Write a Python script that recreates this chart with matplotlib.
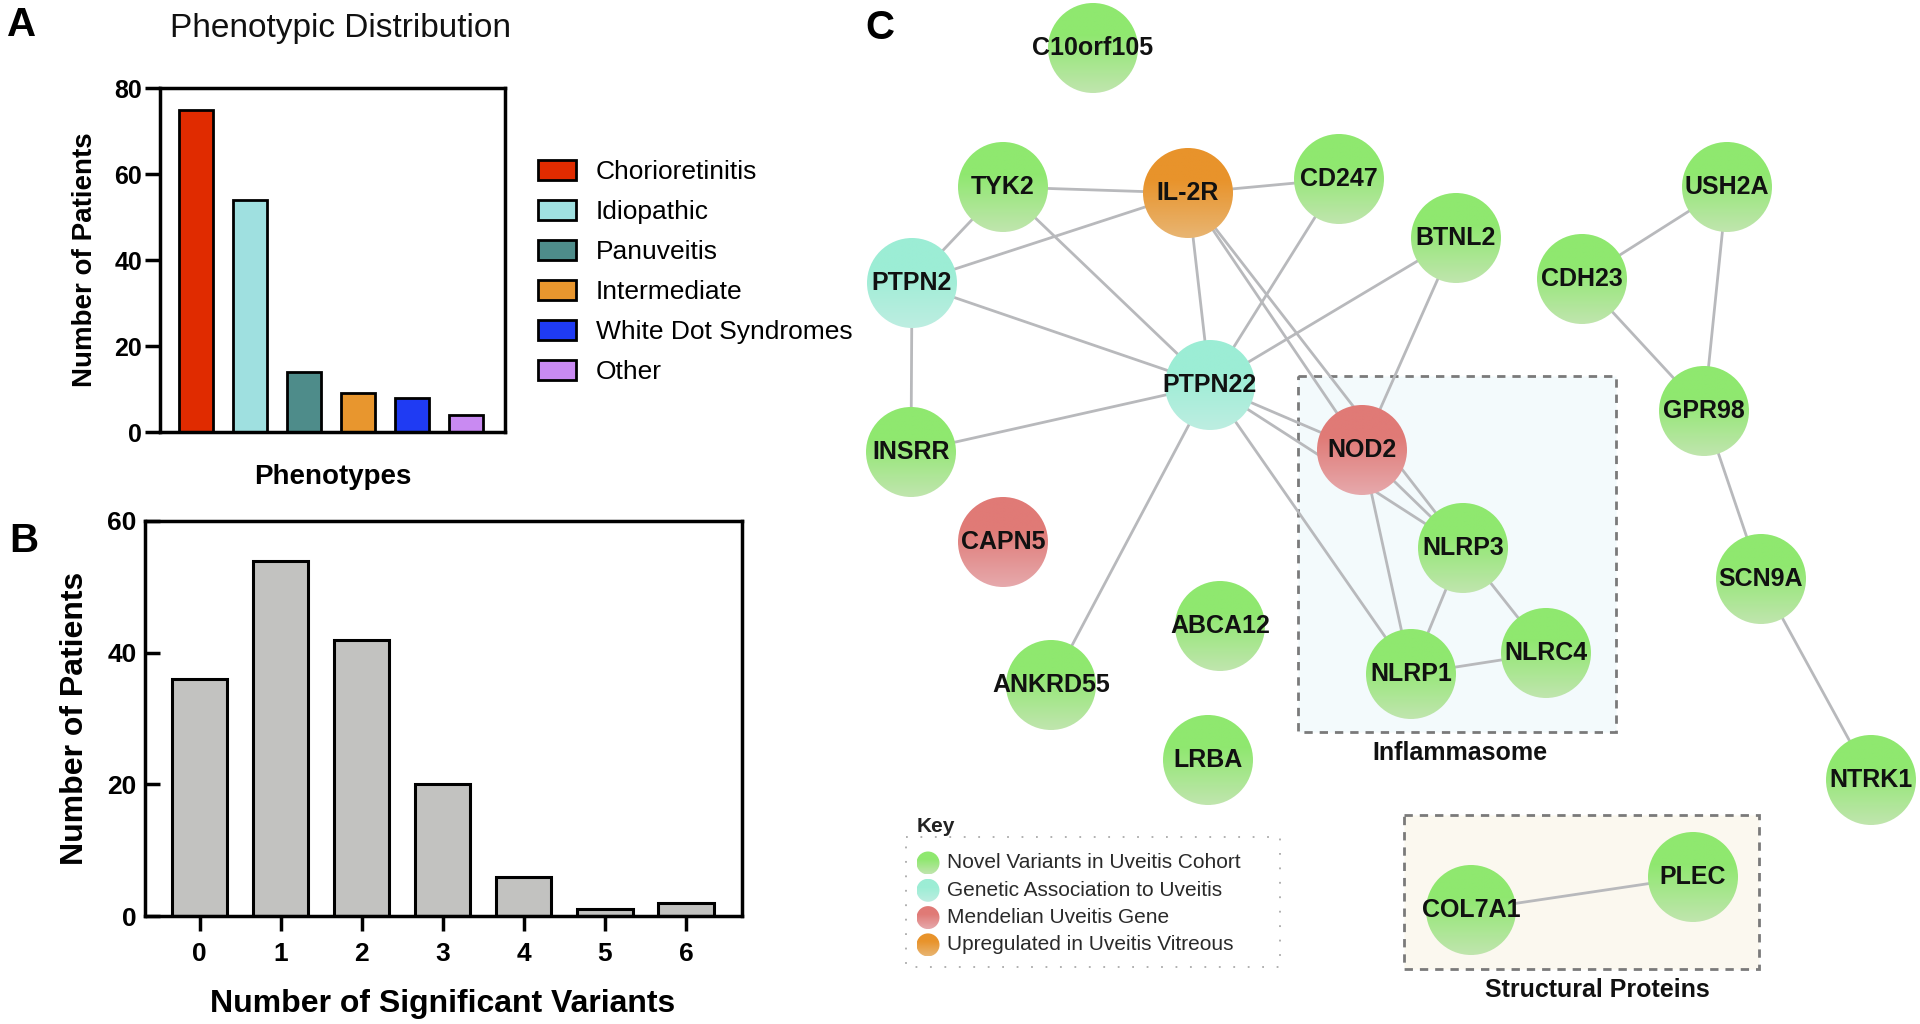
import numpy as np
import matplotlib
matplotlib.use("Agg")
import matplotlib.pyplot as plt
from matplotlib.patches import Circle, Rectangle, Patch
from matplotlib.colors import to_rgb

plt.rcParams['font.family'] = ['Liberation Sans', 'DejaVu Sans']

# ---------------- data ----------------
phenotypes = ['Chorioretinitis', 'Idiopathic', 'Panuveitis', 'Intermediate',
              'White Dot Syndromes', 'Other']
phenotype_counts = [75, 54, 14, 9, 8, 4]
phenotype_colors = ['#E02B00', '#9FE0E0', '#4E8C8A', '#E8962E', '#1F3BF3', '#C98AF2']

variant_counts = [0, 1, 2, 3, 4, 5, 6]
patients_per_count = [36, 54, 42, 20, 6, 1, 2]

genes = ['C10orf105', 'TYK2', 'IL-2R', 'CD247', 'BTNL2', 'USH2A', 'PTPN2', 'CDH23',
         'PTPN22', 'GPR98', 'INSRR', 'NOD2', 'CAPN5', 'NLRP3', 'SCN9A', 'ABCA12',
         'NLRC4', 'NLRP1', 'ANKRD55', 'LRBA', 'NTRK1', 'PLEC', 'COL7A1']
gene_class = ['novel', 'novel', 'upreg', 'novel', 'novel', 'novel', 'assoc', 'novel',
              'assoc', 'novel', 'novel', 'mendel', 'mendel', 'novel', 'novel', 'novel',
              'novel', 'novel', 'novel', 'novel', 'novel', 'novel', 'novel']
interactions = [('TYK2', 'IL-2R'), ('IL-2R', 'CD247'), ('TYK2', 'PTPN2'), ('IL-2R', 'PTPN2'),
                ('TYK2', 'PTPN22'), ('PTPN2', 'PTPN22'), ('PTPN2', 'INSRR'),
                ('IL-2R', 'PTPN22'), ('CD247', 'PTPN22'), ('BTNL2', 'PTPN22'),
                ('BTNL2', 'NOD2'), ('IL-2R', 'NOD2'), ('IL-2R', 'NLRP3'),
                ('PTPN22', 'INSRR'), ('PTPN22', 'ANKRD55'), ('PTPN22', 'NOD2'),
                ('PTPN22', 'NLRP3'), ('PTPN22', 'NLRP1'), ('NOD2', 'NLRP3'),
                ('NOD2', 'NLRP1'), ('NLRP3', 'NLRP1'), ('NLRP3', 'NLRC4'),
                ('NLRP1', 'NLRC4'), ('USH2A', 'CDH23'), ('USH2A', 'GPR98'),
                ('CDH23', 'GPR98'), ('GPR98', 'SCN9A'), ('SCN9A', 'NTRK1'),
                ('COL7A1', 'PLEC')]
class_labels = {'novel': 'Novel Variants in Uveitis Cohort',
                'assoc': 'Genetic Association to Uveitis',
                'mendel': 'Mendelian Uveitis Gene',
                'upreg': 'Upregulated in Uveitis Vitreous'}

# ---------------- layout / style ----------------
layout = {'C10orf105': (1093, 48), 'TYK2': (1003, 187), 'IL-2R': (1188, 193),
          'CD247': (1339, 179), 'BTNL2': (1456, 238), 'USH2A': (1727, 187),
          'PTPN2': (912, 283), 'CDH23': (1582, 279), 'PTPN22': (1210, 385),
          'GPR98': (1704, 411), 'INSRR': (911, 452), 'NOD2': (1362, 450),
          'CAPN5': (1003, 542), 'NLRP3': (1463, 548), 'SCN9A': (1761, 579),
          'ABCA12': (1220, 626), 'NLRC4': (1546, 653), 'NLRP1': (1411, 674),
          'ANKRD55': (1051, 685), 'LRBA': (1208, 760), 'NTRK1': (1871, 780),
          'PLEC': (1693, 877), 'COL7A1': (1471, 910)}
class_colors = {'novel': ('#8FE86F', '#C0E5AE'),
                'assoc': ('#9CEDD5', '#BDEEE1'),
                'mendel': ('#E07A76', '#E6A9AC'),
                'upreg': ('#E8932B', '#E8B572')}
R = 45

W, H = 1920, 1024
fig = plt.figure(figsize=(W / 100, H / 100), dpi=100)


def fx(px):
    return px / W


def fy(py):
    return 1 - py / H


# ---------------- panel C (network) ----------------
axc = fig.add_axes([0, 0, 1, 1])
axc.set_facecolor('none')
axc.axis('off')


def grad_disc(ax, x, y, r, ctop, cbot, z):
    n = 80
    t = np.linspace(0, 1, n)[:, None]
    w = np.clip((t - 0.35) / 0.65, 0, 1)
    top = np.array(to_rgb(ctop))
    bot = np.array(to_rgb(cbot))
    arr = ((1 - w) * top + w * bot).reshape(n, 1, 3)
    im = ax.imshow(arr, extent=(x - r, x + r, y + r, y - r), origin='upper',
                   interpolation='bilinear', aspect='auto', zorder=z)
    circ = Circle((x, y), r, transform=ax.transData, facecolor='none', edgecolor='none')
    ax.add_patch(circ)
    im.set_clip_path(circ)


# group boxes
axc.add_patch(Rectangle((1298, 376), 318, 356, facecolor='#F3FAFC', edgecolor='#7A7A7A',
                        lw=2, linestyle=(0, (3, 2.5)), zorder=0.5))
axc.text(1460, 753, 'Inflammasome', ha='center', va='center', fontsize=18,
         fontweight='bold', color='#111111')
axc.add_patch(Rectangle((1404, 815), 355, 154, facecolor='#FBF8EF', edgecolor='#7A7A7A',
                        lw=2, linestyle=(0, (3, 2.5)), zorder=0.5))
axc.text(1597, 990, 'Structural Proteins', ha='center', va='center', fontsize=18,
         fontweight='bold', color='#111111')

# edges
for a, b in interactions:
    (x1, y1), (x2, y2) = layout[a], layout[b]
    axc.plot([x1, x2], [y1, y2], color='#B8B9BC', lw=2, zorder=1, solid_capstyle='round')

# nodes
for g, c in zip(genes, gene_class):
    x, y = layout[g]
    ctop, cbot = class_colors[c]
    grad_disc(axc, x, y, R, ctop, cbot, 2)
    axc.text(x, y, g, ha='center', va='center', fontsize=18, fontweight='bold',
             color='#111111', zorder=3)

# key
axc.add_patch(Rectangle((906, 837), 374, 130, facecolor='none', edgecolor='#AAAAAA',
                        lw=1.3, linestyle=(0, (1, 7)), zorder=1))
axc.text(917, 827, 'Key', ha='left', va='center', fontsize=15, fontweight='bold',
         color='#222222')
for i, c in enumerate(['novel', 'assoc', 'mendel', 'upreg']):
    ky = 863 + i * 27.3
    ctop, cbot = class_colors[c]
    grad_disc(axc, 928, ky, 11.5, ctop, cbot, 2)
    axc.text(947, ky, class_labels[c], ha='left', va='center', fontsize=15,
             color='#2A2A2A')

axc.set_xlim(0, W)
axc.set_ylim(H, 0)

# ---------------- panel A ----------------
axa = fig.add_axes([fx(160), fy(432), fx(505) - fx(160), fy(88) - fy(432)])
xa = np.arange(len(phenotypes))
axa.bar(xa, phenotype_counts, width=0.63, color=phenotype_colors, edgecolor='black',
        linewidth=2, label=phenotypes)
axa.set_xlim(-0.67, 5.73)
axa.set_ylim(0, 80)
axa.set_yticks([0, 20, 40, 60, 80])
axa.set_xticks([])
for s in axa.spines.values():
    s.set_linewidth(2.5)
axa.tick_params(axis='y', direction='out', length=11, width=2.5, labelsize=18, pad=2)
for t in axa.get_yticklabels():
    t.set_fontweight('bold')
axa.set_ylabel('Number of Patients', fontsize=20, fontweight='bold', va='center')
axa.yaxis.set_label_coords(-0.217, 0.5)
axa.set_xlabel('Phenotypes', fontsize=20, fontweight='bold', va='center')
axa.xaxis.set_label_coords(0.501, -0.131)
handles = [Patch(facecolor=c, edgecolor='black', linewidth=2) for c in phenotype_colors]
fig.legend(handles, phenotypes, loc='upper left', bbox_to_anchor=(fx(538), fy(160)),
           frameon=False, fontsize=19, handlelength=1.45, handleheight=0.78,
           handletextpad=0.75, labelspacing=0.6, borderpad=0, borderaxespad=0)
fig.text(fx(341), fy(28), 'Phenotypic Distribution', ha='center', va='center',
         fontsize=24, color='#111111')

# ---------------- panel B ----------------
axb = fig.add_axes([fx(145), fy(916), fx(742) - fx(145), fy(521) - fy(916)])
axb.bar(variant_counts, patients_per_count, width=0.68, color='#C2C2C0',
        edgecolor='black', linewidth=2.2)
axb.set_xlim(-0.673, 6.69)
axb.set_ylim(0, 60)
axb.set_yticks([0, 20, 40, 60])
axb.set_xticks(variant_counts)
for s in axb.spines.values():
    s.set_linewidth(2.5)
axb.tick_params(axis='y', direction='in', length=11, width=2.5, labelsize=19, pad=6)
axb.tick_params(axis='x', direction='out', length=11, width=2.5, labelsize=19, pad=8)
for t in axb.get_yticklabels() + axb.get_xticklabels():
    t.set_fontweight('bold')
axb.set_ylabel('Number of Patients', fontsize=23, fontweight='bold', va='center')
axb.yaxis.set_label_coords(-0.117, 0.5)
axb.set_xlabel('Number of Significant Variants', fontsize=23, fontweight='bold',
               va='center')
axb.xaxis.set_label_coords(0.499, -0.223)

# panel letters
fig.text(fx(22), fy(25), 'A', ha='center', va='center', fontsize=29, fontweight='bold')
fig.text(fx(24), fy(541), 'B', ha='center', va='center', fontsize=29, fontweight='bold')
fig.text(fx(880), fy(28), 'C', ha='center', va='center', fontsize=29, fontweight='bold')

fig.savefig('out.png', dpi=100)
